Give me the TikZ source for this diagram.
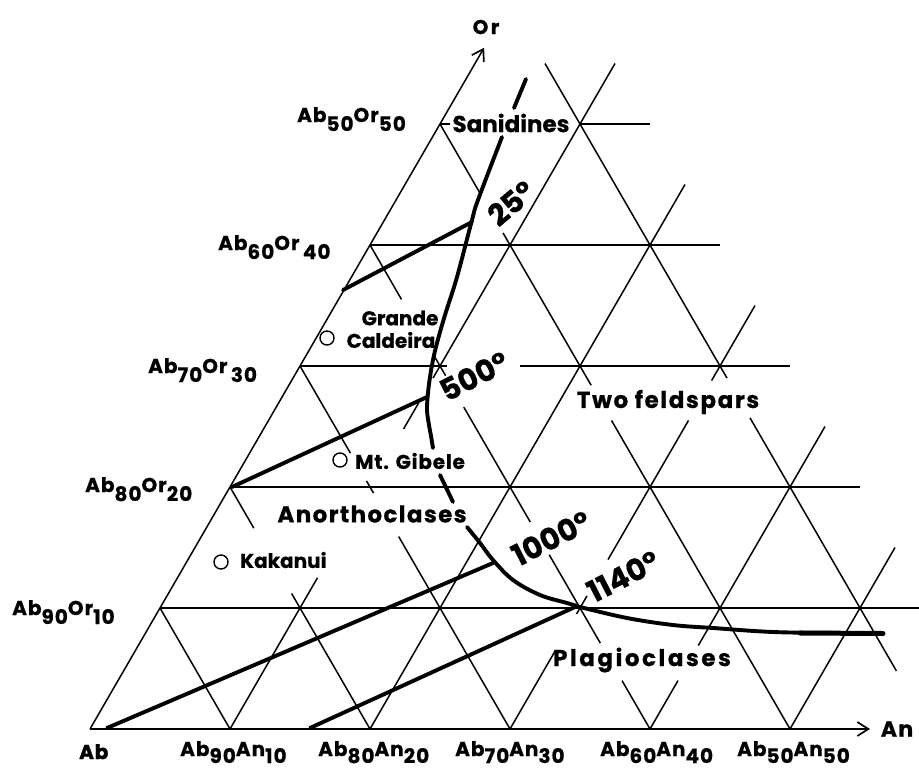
\documentclass[tikz,border=0pt]{standalone}
\usepackage{fontspec}
\setmainfont{Poppins}
\newfontfamily\labfontbase{Poppins}[FakeBold=0.6]
\newfontfamily\heavyfontbase{Poppins}[FakeBold=1.8]
\newcommand\labfont{\labfontbase\bfseries}
\newcommand\heavyfont{\heavyfontbase\bfseries}
\usetikzlibrary{arrows.meta}
\newcommand\lsub[1]{\raisebox{-9pt}{#1}}
\newcommand\bsub[1]{\raisebox{-7pt}{#1}}
\newcommand\ls[1]{\addfontfeature{LetterSpace=#1}}
\begin{document}
\begin{tikzpicture}[x=1pt,y=-1pt,
  gridline/.style={line width=1.5pt},
  heavy/.style={line width=3.9pt, line cap=round, line join=round},
  axistip/.style={-{Straight Barb[length=11pt,width=14pt,line width=1.7pt]}},
  region/.style={font=\labfont\fontsize{23}{26}\selectfont, inner sep=0pt},
  site/.style={font=\labfont\fontsize{20}{22}\selectfont, inner sep=0pt},
  edge/.style={font=\labfont\fontsize{20}{22}\selectfont\ls{5}, inner sep=0pt, anchor=base west},
  temp/.style={font=\labfont\fontsize{30}{32}\selectfont, inner sep=0pt},
  sample/.style={circle, draw, line width=1.4pt, minimum size=14pt, inner sep=0pt}
]
\useasboundingbox (0,0) rectangle (919,768);
\fill[white] (0,0) rectangle (919,768);

% ---- lattice (a = An/10, o = Or/10) ----
\begin{scope}[shift={(90,729)}, x={(140pt,0pt)}, y={(70pt,121pt)}, gridline]
  \coordinate (Ab) at (0,0);
  \coordinate (Anend) at (5.571,0);
  \coordinate (Orend) at (0,5.63);
  \draw[axistip] (Ab) -- (Anend);
  \draw[axistip] (Ab) -- (Orend);
  % horizontal lines (constant Or)
  \foreach \o/\p/\q in {1/0/5.42, 2/0/4.5, 3/0/1.05, 3/1.57/3.5, 4/0/2.5, 5/0/0.07, 5/1/1.5}
    \draw (\p,\o) -- (\q,\o);
  % constant An lines (parallel to Ab-Or edge)
  \foreach \a/\p/\q in {1/0/1.25, 1/2.48/2.70, 1/2.9/5.5, 2/0/4.5,
                        3/0/0.65, 3/0.95/1.1, 3/1.4/2.55, 3/2.88/3.5,
                        4/0/0.4, 4/0.69/2.5, 5/0/1.5}
    \draw (\a,\p) -- (\a,\q);
  % constant Ab lines
  \foreach \s/\p/\q in {1/0/1, 2/0/1.12, 2/1.66/2,
                        3/0/1.59, 3/1.95/2.05, 3/2.28/3,
                        4/0/0.4, 4/0.71/1.44, 4/1.71/2.66, 4/2.92/3.08, 4/3.55/4,
                        5/0/2.55, 5/2.84/4.1, 5/4.43/5,
                        6/0.48/2.57, 6/2.9/5.5}
    \draw ({\s-\p},\p) -- ({\s-\q},\q);
\end{scope}

% ---- heavy curves ----
\draw[heavy] (526,79) -- (514,108);
\draw[heavy] plot[smooth, tension=0.6] coordinates {(502,137) (478,200) (472,220) (457,277) (445,315) (437,343) (433,360) (430,377) (428,393) (427,410) (429,425) (431,436) (433,448)};
\draw[heavy] (440,475) -- (453,502);
\draw[heavy] plot[smooth, tension=0.6] coordinates {(467,527) (480,543) (493,560) (513,580) (540,595) (567,603) (580,607)};
\draw[heavy] plot[smooth, tension=0.6] coordinates {(580,607) (627,618) (673,625) (713,628) (773,632) (840,633) (883,633)};
\draw[line width=5pt, line cap=round] (800,633) -- (883,633.5);
% tie lines
\draw[heavy] (343,290) -- (472,222);
\draw[heavy] (232,487) -- (427,397);
\draw[heavy] (107,728) -- (493,563);
\draw[heavy] (310,728) -- (575,607);

% ---- samples ----
\node[sample] (gc) at (327,338) {};
\node[sample] (mg) at (340,460) {};
\node[sample] (kk) at (221,562) {};
\node[site] (gcA) at (400,318) {Grande};
\node[site] (gcB) at (391,340) {Caldeira};
\node[site, anchor=west, font=\labfont\fontsize{20}{22}\selectfont\ls{4}] (mgL) at (355,461) {Mt. Gibele};
\node[site, anchor=west] (kkL) at (240,560) {Kakanui};

% ---- region labels ----
\node[region] (san) at (511,123) {Sanidines};
\node[region, font=\labfont\fontsize{23}{26}\selectfont\ls{6}] (ano) at (372,514) {Anorthoclases};
\node[region, font=\labfont\fontsize{23}{26}\selectfont\ls{7}] (two) at (668,402) {Two feldspars};
\node[region, font=\labfont\fontsize{23}{26}\selectfont\ls{11}] (pla) at (642,660) {Plagioclases};

% ---- temperatures ----
\node[temp, rotate=40] (t25) at (511,203) {25°};
\node[temp, rotate=27] (t500) at (474,376) {500°};
\node[temp, rotate=27] (t1000) at (551,538) {1000°};
\node[temp, rotate=27] (t1140) at (623,576) {1140°};

% ---- axis labels ----
\node[font=\labfont\fontsize{20}{22}\selectfont\ls{12}, inner sep=0pt] (Or) at (486,27) {Or};
\node[font=\labfont\fontsize{22}{24}\selectfont\ls{6}, inner sep=0pt] (An) at (897,729) {An};
\node[edge, font=\heavyfont\fontsize{20}{22}\selectfont\ls{4}] (AbL) at (79,759) {Ab};
\node[edge] (b10) at (180,756) {Ab\bsub{90}An\bsub{10}};
\node[edge] (b20) at (318,756) {Ab\bsub{80}An\bsub{20}};
\node[edge] (b30) at (455,756) {Ab\bsub{70}An\bsub{30}};
\node[edge] (b40) at (600,756) {Ab\bsub{60}An\bsub{40}};
\node[edge] (b50) at (737,756) {Ab\bsub{50}An\bsub{50}};
\node[edge] (l10) at (12,615) {Ab\lsub{90}Or\lsub{10}};
\node[edge] (l20) at (85,492) {Ab\lsub{80}Or\lsub{20}};
\node[edge] (l30) at (148,373) {Ab\lsub{70}Or\lsub{\,30}};
\node[edge] (l40) at (218,250) {Ab\lsub{60}Or\lsub{\,40}};
\node[edge] (l50) at (297,122) {Ab\lsub{50}Or\lsub{50}};
\end{tikzpicture}
\end{document}
